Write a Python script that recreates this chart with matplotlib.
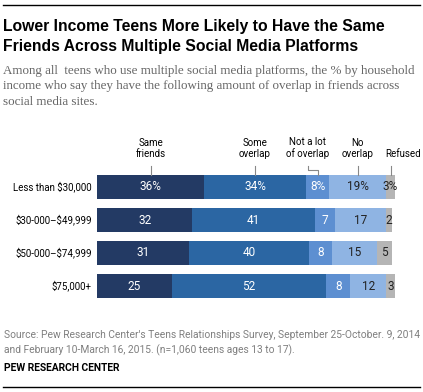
import numpy as np
import matplotlib
matplotlib.use('Agg')
import matplotlib.pyplot as plt

# data
groups = ['Less than $30,000', '$30-000–$49,999', '$50-000–$74,999', '$75,000+']
categories = ['Same\nfriends', 'Some\noverlap', 'Not a lot\nof overlap', 'No\noverlap', 'Refused']
same_friends = [36, 32, 31, 25]
some_overlap = [34, 41, 40, 52]
not_a_lot = [8, 7, 8, 8]
no_overlap = [19, 17, 15, 12]
refused = [3, 2, 5, 3]

series = [same_friends, some_overlap, not_a_lot, no_overlap, refused]
colors = ['#233a64', '#2b66a3', '#5d8fd1', '#8fb4e3', '#b5b5b5']
txt_colors = ['white', 'white', 'white', '#222222', '#222222']

W, H = 423, 392
fig = plt.figure(figsize=(W / 100, H / 100), dpi=100)
renderer = fig.canvas.get_renderer()

sans = ['Roboto', 'DejaVu Sans']
serif = ['Liberation Serif', 'DejaVu Serif']


def px(x, y):
    return x / W, 1 - y / H


def fit(t, width):
    # scale font so the text spans the given width in pixels
    w = t.get_window_extent(renderer).width
    t.set_fontsize(t.get_fontsize() * width / w)
    return t.get_fontsize()


# rules top and bottom
fig.add_artist(plt.Line2D([3 / W, 420 / W], [1 - 5 / H, 1 - 5 / H], color='black', lw=1))
fig.add_artist(plt.Line2D([3 / W, 420 / W], [1 - 387 / H, 1 - 387 / H], color='black', lw=1))

t = fig.text(*px(3, 31), 'Lower Income Teens More Likely to Have the Same',
             fontsize=11.5, weight='bold', family=['Liberation Sans', 'DejaVu Sans'], va='baseline')
fs = fit(t, 384)
fig.text(*px(3, 51), 'Friends Across Multiple Social Media Platforms',
         fontsize=fs, weight='bold', family=['Liberation Sans', 'DejaVu Sans'], va='baseline')
sub = ['Among all  teens who use multiple social media platforms, the % by household',
       'income who say they have the following amount of overlap in friends across',
       'social media sites.']
fs = None
for i, s in enumerate(sub):
    t = fig.text(*px(3, 74 + i * 15.3), s, fontsize=9 if fs is None else fs, color='#666666',
                 family=serif, va='baseline')
    if fs is None:
        fs = fit(t, 413)

# bars
ax = fig.add_axes([97 / W, 1 - 302.5 / H, 298 / W, 132 / H])
y = np.arange(len(groups))
left = np.zeros(len(groups))
for k, vals in enumerate(series):
    vals = np.array(vals)
    ax.barh(y, vals, left=left, height=24 / 33, color=colors[k], lw=0)
    for i in range(len(groups)):
        lab = str(vals[i]) + ('%' if i == 0 else '')
        ax.text(left[i] + vals[i] / 2, y[i], lab, ha='center', va='center',
                fontsize=8.5, color=txt_colors[k], family=sans)
    left += vals

ax.set_xlim(0, 100)
ax.set_ylim(3.5, -0.5)
ax.axis('off')

fs = None
for i, g in enumerate(groups):
    t = ax.text(-1.7, y[i], g, ha='right', va='center', fontsize=8 if fs is None else fs,
                family=sans, clip_on=False, parse_math=False)
    if fs is None:
        fs = fit(t, 80)

# category headers with leader lines (positions from first row)
start = np.cumsum([0] + [s[0] for s in series[:-1]])
mids = start + np.array([s[0] for s in series]) / 2
text_x = [mids[0], mids[1], mids[2] - 3.2, mids[3], mids[4] + 4.2]
for k, c in enumerate(categories):
    ax.text(text_x[k], -0.86, c, ha='center', va='bottom', fontsize=fs,
            family=sans, linespacing=1.1, clip_on=False)
    if k == 2:
        ax.plot([text_x[k], text_x[k], mids[k], mids[k]], [-0.64, -0.52, -0.52, -0.364],
                color='#888888', lw=0.8, clip_on=False)
    else:
        ax.plot([mids[k], mids[k]], [-0.64, -0.364], color='#888888', lw=0.8, clip_on=False)

t = fig.text(*px(4, 338), "Source: Pew Research Center's Teens Relationships Survey, September 25-October. 9, 2014",
             fontsize=7.3, color='#7f7f7f', family=sans, va='baseline')
fs = fit(t, 414)
fig.text(*px(4, 353), 'and February 10-March 16, 2015. (n=1,060 teens ages 13 to 17).',
         fontsize=fs, color='#7f7f7f', family=sans, va='baseline')
fig.text(*px(4, 371), 'PEW RESEARCH CENTER', fontsize=fs, weight='bold',
         family=sans, va='baseline')

fig.savefig('out.png', dpi=100)
